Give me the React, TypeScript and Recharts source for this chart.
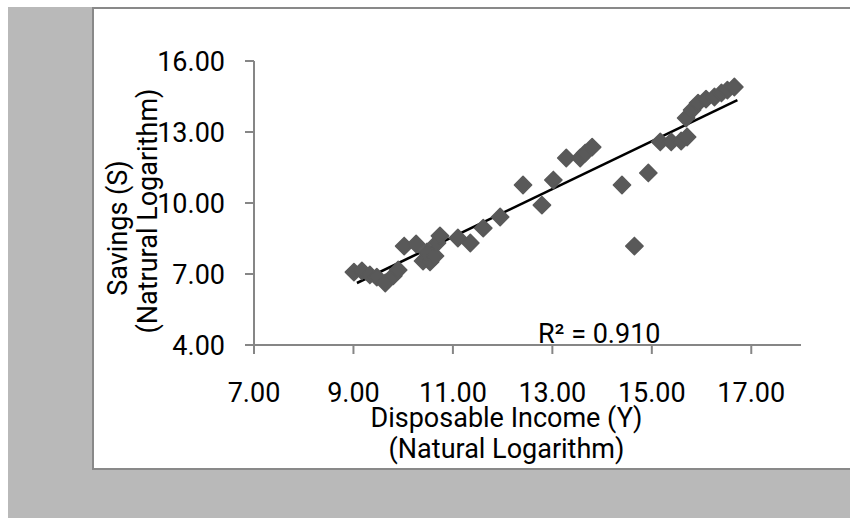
import React from 'react';
import { ScatterChart, Scatter, XAxis, YAxis, ReferenceLine, ReferenceDot } from 'recharts';

// Disposable income (ln) vs savings (ln)
const incomeLn = [
  9.01, 9.17, 9.33, 9.47, 9.64, 9.80, 9.90, 10.02, 10.26, 10.40,
  10.54, 10.48, 10.64, 10.68, 10.74, 11.10, 11.35, 11.61, 11.95, 12.41,
  12.79, 13.02, 13.28, 13.56, 13.66, 13.80, 14.40, 14.93, 14.65, 15.17,
  15.39, 15.59, 15.71, 15.69, 15.81, 15.93, 16.09, 16.26, 16.40, 16.52,
  16.66,
];
const savingsLn = [
  7.08, 7.13, 6.96, 6.87, 6.62, 6.92, 7.17, 8.18, 8.27, 7.55,
  7.51, 7.93, 7.76, 8.31, 8.61, 8.52, 8.31, 8.94, 9.41, 10.76,
  9.91, 10.97, 11.90, 11.90, 12.11, 12.36, 10.76, 11.27, 8.18, 12.58,
  12.58, 12.62, 12.79, 13.59, 13.93, 14.22, 14.39, 14.48, 14.65, 14.77,
  14.90,
];

// Linear trendline endpoints as drawn in the picture
const trendX = [9.07, 16.72];
const trendY = [6.62, 14.35];
const rSquaredText = 'R² = 0.910';
const rSquaredAnchor = { x: 12.71, y: 4 };

const xTicks = [7, 9, 11, 13, 15, 17];
const yTicks = [4, 7, 10, 13, 16];
const xTitle = ['Disposable Income (Y)', '(Natural Logarithm)'];
const yTitle = ['Savings (S)', '(Natrural Logarithm)'];

const data = incomeLn.map((x, i) => ({ x, y: savingsLn[i] }));

const FONT = 'Roboto';
const FS = 27;
const AXIS = '#868686';
const POINT = '#595959';

const fmt = (v: number) => v.toFixed(2);

const Diamond = (props: any) => {
  const { cx, cy } = props;
  if (cx == null || cy == null) return <g />;
  const r = 8.6;
  return (
    <path
      d={`M${cx},${cy - r} L${cx + r},${cy} L${cx},${cy + r} L${cx - r},${cy} Z`}
      fill={POINT}
      stroke={POINT}
      strokeWidth={1.6}
      strokeLinejoin="round"
    />
  );
};

const XTitle = (props: any) => {
  const vb = props.viewBox || {};
  const cx = vb.x + vb.width / 2 - 21;
  return (
    <g>
      <text x={cx} y={427} textAnchor="middle" fontFamily={FONT} fontSize={FS} fill="#000">{xTitle[0]}</text>
      <text x={cx} y={458} textAnchor="middle" fontFamily={FONT} fontSize={FS} fill="#000">{xTitle[1]}</text>
    </g>
  );
};

const YTitle = () => (
  <g>
    <text transform="translate(127,228) rotate(-90)" textAnchor="middle" fontFamily={FONT} fontSize={FS} fill="#000">{yTitle[0]}</text>
    <text transform="translate(157,211) rotate(-90)" textAnchor="middle" fontFamily={FONT} fontSize={FS} fill="#000">{yTitle[1]}</text>
  </g>
);

const RLabel = (props: any) => {
  const vb = props.viewBox || {};
  return (
    <text x={vb.x} y={vb.y - 2.5} fontFamily={FONT} fontSize={FS} fill="#000">{rSquaredText}</text>
  );
};

export default function App() {
  return (
    <div style={{ position: 'fixed', left: 0, top: 0, width: 850, height: 519, overflow: 'hidden', background: '#fff' }}>
      <style>{'html,body{overflow:hidden;margin:0;}'}</style>
      <div style={{ position: 'absolute', left: 8, top: 7, width: 842, height: 511, background: '#b9b9b9' }} />
      <div
        style={{
          position: 'absolute', left: 92, top: 7, width: 758, height: 463, background: '#fff',
          boxSizing: 'border-box', borderLeft: '2px solid #898989', borderTop: '2px solid #898989', borderBottom: '2px solid #898989',
        }}
      />
      <div style={{ position: 'absolute', left: 0, top: 0 }}>
        <ScatterChart width={850} height={519} margin={{ top: 61, right: 49, bottom: 114, left: 154 }}>
          <XAxis
            type="number"
            dataKey="x"
            domain={[7, 18]}
            ticks={xTicks}
            tickFormatter={fmt}
            height={60}
            allowDataOverflow
            stroke={AXIS}
            strokeWidth={2}
            tickSize={9}
            tickMargin={29}
            tickLine={{ stroke: AXIS, strokeWidth: 2 }}
            tick={{ fontFamily: FONT, fontSize: FS, fill: '#000' }}
            label={{ content: XTitle }}
          />
          <YAxis
            type="number"
            dataKey="y"
            domain={[4, 16]}
            ticks={yTicks}
            tickFormatter={fmt}
            width={100}
            allowDataOverflow
            stroke={AXIS}
            strokeWidth={2}
            tickSize={9}
            tickMargin={20}
            tickLine={{ stroke: AXIS, strokeWidth: 2 }}
            tick={{ fontFamily: FONT, fontSize: FS, fill: '#000' }}
            label={{ content: YTitle }}
          />
          <Scatter data={data} shape={Diamond} isAnimationActive={false} />
          <ReferenceLine
            segment={[{ x: trendX[0], y: trendY[0] }, { x: trendX[1], y: trendY[1] }]}
            stroke="#000"
            strokeWidth={2.6}
            ifOverflow="visible"
          />
          <ReferenceDot
            x={rSquaredAnchor.x}
            y={rSquaredAnchor.y}
            r={0}
            fill="none"
            stroke="none"
            ifOverflow="visible"
            label={{ content: RLabel }}
          />
        </ScatterChart>
      </div>
    </div>
  );
}
